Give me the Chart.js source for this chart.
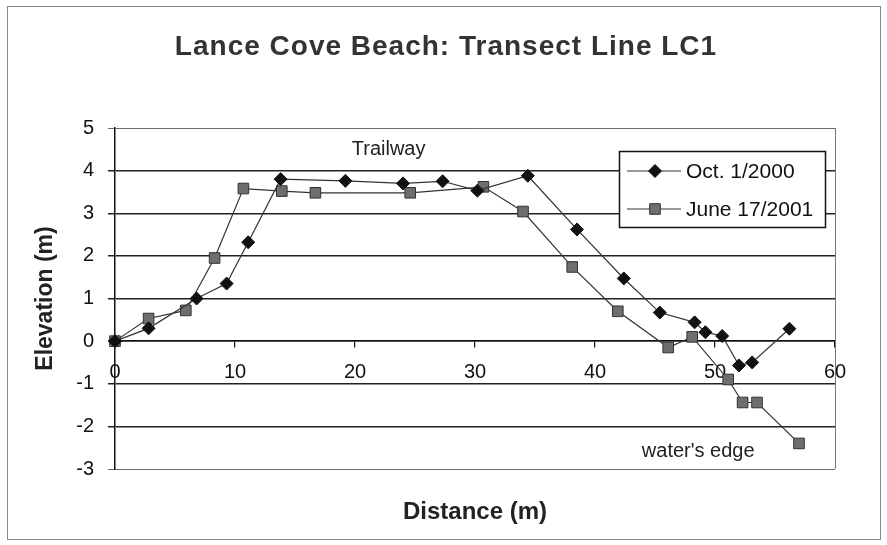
<!DOCTYPE html>
<html>
<head>
<meta charset="utf-8">
<title>Lance Cove Beach: Transect Line LC1</title>
<script src="https://cdn.jsdelivr.net/npm/chart.js@4.4.1/dist/chart.umd.min.js"></script>
<style>
  html, body { margin: 0; padding: 0; background: #fff; }
  canvas { display: block; }
</style>
</head>
<body>
<canvas id="grafico" width="887" height="545"></canvas>
<script>
// valores
const octDist  = [0, 2.8, 6.8, 9.3, 11.1, 13.8, 19.2, 24.0, 27.3, 30.2, 34.4, 38.5, 42.4, 45.4, 48.3, 49.2, 50.6, 52.0, 53.1, 56.2];
const octElev  = [0, 0.30, 1.00, 1.35, 2.32, 3.80, 3.76, 3.70, 3.75, 3.53, 3.88, 2.62, 1.47, 0.67, 0.44, 0.21, 0.12, -0.57, -0.50, 0.29];

const juneDist = [0, 2.8, 5.9, 8.3, 10.7, 13.9, 16.7, 24.6, 30.7, 34.0, 38.1, 41.9, 46.1, 48.1, 51.1, 52.3, 53.5, 57.0];
const juneElev = [0, 0.53, 0.72, 1.95, 3.58, 3.52, 3.48, 3.48, 3.62, 3.04, 1.74, 0.70, -0.15, 0.10, -0.90, -1.44, -1.44, -2.40];

const serieNomes = ["Oct. 1/2000", "June 17/2001"];
const xTicks = [0, 10, 20, 30, 40, 50, 60];
const yTicks = [-3, -2, -1, 0, 1, 2, 3, 4, 5];

const notas = [
  { texto: "Trailway", x: 22.8, y: 4.5 },
  { texto: "water's edge", x: 48.6, y: -2.58 }
];

const TITULO = "Lance Cove Beach: Transect Line LC1";
const FONTE = "'Liberation Sans', Arial, sans-serif";

function montarPontos(xs, ys) {
  return xs.map((x, i) => ({ x: x, y: ys[i] }));
}

// moldura, titulo, legenda, anotacoes e titulo do eixo x
const pluginExtras = {
  id: "extras",
  beforeDraw(chart) {
    const ctx = chart.ctx;
    ctx.save();
    ctx.fillStyle = "#fff";
    ctx.fillRect(0, 0, chart.width, chart.height);
    ctx.strokeStyle = "#8a8a8a";
    ctx.lineWidth = 1;
    ctx.strokeRect(7.5, 6.5, 873, 533);

    ctx.fillStyle = "#333";
    ctx.font = "bold 28px " + FONTE;
    ctx.textAlign = "center";
    ctx.textBaseline = "middle";
    if ("letterSpacing" in ctx) ctx.letterSpacing = "1px";
    ctx.fillText(TITULO, 446, 47);
    if ("letterSpacing" in ctx) ctx.letterSpacing = "0px";
    ctx.restore();
  },
  afterDatasetsDraw(chart) {
    const ctx = chart.ctx;
    const area = chart.chartArea;
    const sx = chart.scales.x;
    const sy = chart.scales.y;

    ctx.save();
    // borda direita do plot
    ctx.strokeStyle = "#777";
    ctx.lineWidth = 1;
    ctx.beginPath();
    ctx.moveTo(Math.round(area.right) + 0.5, area.top);
    ctx.lineTo(Math.round(area.right) + 0.5, area.bottom);
    ctx.stroke();

    // anotacoes
    ctx.fillStyle = "#222";
    ctx.font = "20px " + FONTE;
    ctx.textAlign = "center";
    ctx.textBaseline = "middle";
    notas.forEach(n => {
      ctx.fillText(n.texto, sx.getPixelForValue(n.x), sy.getPixelForValue(n.y));
    });

    // legenda
    const lx = area.right - 216;
    const ly = area.top + 23;
    const lw = 206;
    const lh = 76;
    ctx.fillStyle = "#fff";
    ctx.fillRect(lx, ly, lw, lh);
    ctx.strokeStyle = "#111";
    ctx.lineWidth = 1.5;
    ctx.strokeRect(lx + 0.5, ly + 0.5, lw, lh);

    chart.data.datasets.forEach((ds, i) => {
      const cy = ly + 20 + i * 38;
      ctx.strokeStyle = ds.borderColor;
      ctx.lineWidth = ds.borderWidth;
      ctx.beginPath();
      ctx.moveTo(lx + 8, cy);
      ctx.lineTo(lx + 62, cy);
      ctx.stroke();
      ctx.fillStyle = ds.pointBackgroundColor;
      ctx.strokeStyle = ds.pointBorderColor;
      ctx.lineWidth = ds.pointBorderWidth;
      Chart.helpers.drawPoint(ctx, {
        pointStyle: ds.pointStyle,
        radius: ds.pointRadius,
        borderWidth: ds.pointBorderWidth,
        rotation: 0
      }, lx + 36, cy);
      ctx.fillStyle = "#111";
      ctx.font = "21px " + FONTE;
      ctx.textAlign = "left";
      ctx.textBaseline = "middle";
      ctx.fillText(ds.label, lx + 67, cy + 1);
    });

    // titulo do eixo x
    ctx.fillStyle = "#222";
    ctx.font = "bold 24px " + FONTE;
    ctx.textAlign = "center";
    ctx.textBaseline = "middle";
    ctx.fillText("Distance (m)", (area.left + area.right) / 2, 512);
    ctx.restore();
  }
};

const ctx = document.getElementById("grafico").getContext("2d");

const estiloPonto = [
  { style: "rectRot", radius: 6.5, fill: "#111", border: "#111" },
  { style: "rect", radius: 7.5, fill: "#6e6e6e", border: "#333" }
];

new Chart(ctx, {
  type: "line",
  data: {
    datasets: [
      {
        label: serieNomes[0],
        data: montarPontos(octDist, octElev),
        borderColor: "#333",
        borderWidth: 1.2,
        pointStyle: estiloPonto[0].style,
        pointRadius: estiloPonto[0].radius,
        pointBackgroundColor: estiloPonto[0].fill,
        pointBorderColor: estiloPonto[0].border,
        pointBorderWidth: 1,
        tension: 0,
        fill: false
      },
      {
        label: serieNomes[1],
        data: montarPontos(juneDist, juneElev),
        borderColor: "#333",
        borderWidth: 1.2,
        pointStyle: estiloPonto[1].style,
        pointRadius: estiloPonto[1].radius,
        pointBackgroundColor: estiloPonto[1].fill,
        pointBorderColor: estiloPonto[1].border,
        pointBorderWidth: 1,
        tension: 0,
        fill: false
      }
    ]
  },
  options: {
    responsive: false,
    devicePixelRatio: 1,
    animation: false,
    clip: false,
    layout: {
      padding: { left: 0, right: 52, top: 128, bottom: 76 }
    },
    scales: {
      x: {
        type: "linear",
        position: { y: 0 },
        min: xTicks[0],
        max: xTicks[xTicks.length - 1],
        afterBuildTicks(scale) {
          scale.ticks = xTicks.map(v => ({ value: v }));
        },
        ticks: {
          color: "#111",
          font: { family: FONTE, size: 20 },
          padding: 13,
          maxRotation: 0
        },
        grid: {
          display: true,
          drawOnChartArea: false,
          drawTicks: true,
          tickLength: 6,
          color: "#111",
          lineWidth: 1.2
        },
        border: { display: true, color: "#111", width: 1.5 }
      },
      y: {
        min: yTicks[0],
        max: yTicks[yTicks.length - 1],
        afterBuildTicks(scale) {
          scale.ticks = yTicks.map(v => ({ value: v }));
        },
        afterFit(scale) {
          scale.width = 115;
        },
        ticks: {
          color: "#111",
          font: { family: FONTE, size: 20 },
          padding: 14
        },
        grid: {
          color: c => (c.tick && (c.tick.value === 5 || c.tick.value === -3)) ? "#6a6a6a" : "#222",
          lineWidth: c => (c.tick && (c.tick.value === 5 || c.tick.value === -3)) ? 1 : 1.5,
          tickLength: 7
        },
        border: { display: true, color: "#111", width: 1.5 },
        title: {
          display: true,
          text: "Elevation (m)",
          color: "#222",
          font: { family: FONTE, size: 23, weight: "bold" },
          padding: { top: 32, bottom: 0 }
        }
      }
    },
    plugins: {
      legend: { display: false },
      tooltip: { enabled: false },
      title: { display: false }
    }
  },
  plugins: [pluginExtras]
});
</script>
</body>
</html>
